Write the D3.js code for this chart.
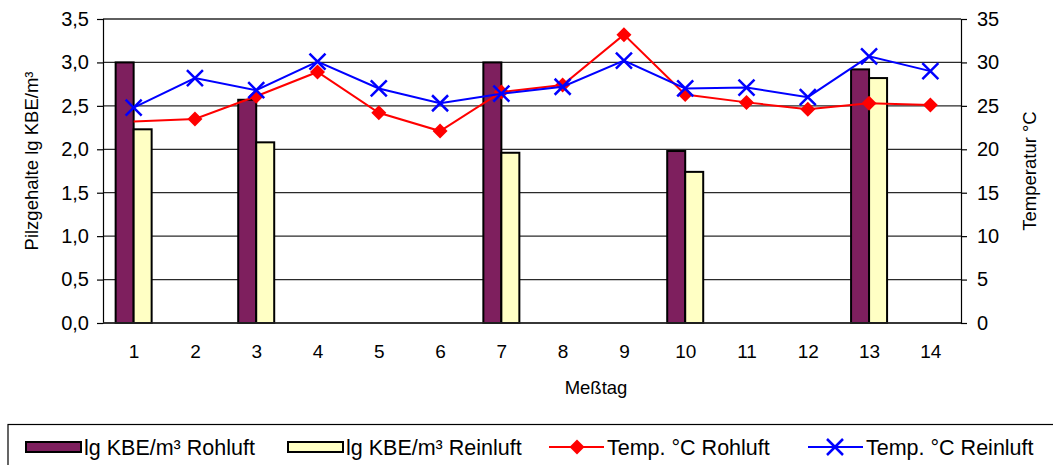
<!DOCTYPE html>
<html>
<head>
<meta charset="utf-8">
<script src="https://cdn.jsdelivr.net/npm/d3@7"></script>
<style>
  html, body { margin: 0; padding: 0; background: #fff; }
  svg { display: block; font-family: "Liberation Sans", Arial, sans-serif; }
</style>
</head>
<body>
<svg id="chart" width="1053" height="465"></svg>
<script>
// Measurement days
const days = ["1","2","3","4","5","6","7","8","9","10","11","12","13","14"];
// Fungal load (lg KBE/m³) on the days it was sampled; null = not measured
const kbeRohluft  = [3.00, null, 2.57, null, null, null, 3.00, null, null, 1.98, null, null, 2.92, null];
const kbeReinluft = [2.23, null, 2.08, null, null, null, 1.96, null, null, 1.74, null, null, 2.82, null];
// Temperatures in °C
const tempRohluft  = [23.2, 23.5, 26.1, 28.9, 24.2, 22.1, 26.6, 27.4, 33.2, 26.3, 25.4, 24.6, 25.3, 25.1];
const tempReinluft = [24.8, 28.2, 26.8, 30.1, 27.0, 25.3, 26.4, 27.2, 30.2, 27.0, 27.1, 26.0, 30.7, 29.0];
// Axis ticks
const leftTicks  = [0, 0.5, 1, 1.5, 2, 2.5, 3, 3.5];
const rightTicks = [0, 5, 10, 15, 20, 25, 30, 35];

const barSeries = ["Rohluft", "Reinluft"];
const barColor = { Rohluft: "#7E1F5E", Reinluft: "#FFFFC4" };

const svg = d3.select("#chart");
const plot = { left: 103, right: 961, top: 19, bottom: 323 };

const x = d3.scalePoint().domain(days).range([plot.left, plot.right]).padding(0.5);
const xb = d3.scaleBand().domain(barSeries).range([-18, 18]);
const yL = d3.scaleLinear().domain([0, 3.5]).range([plot.bottom, plot.top]);
const yR = d3.scaleLinear().domain([0, 35]).range([plot.bottom, plot.top]);

const fmtL = v => d3.format(".1f")(v).replace(".", ",");

// Horizontal gridlines
svg.append("g").selectAll("line").data(leftTicks).join("line")
  .attr("x1", plot.left).attr("x2", plot.right)
  .attr("y1", d => yL(d)).attr("y2", d => yL(d))
  .attr("stroke", "#2a2a2a").attr("stroke-width", 1.3);

// Bars
const barData = [];
days.forEach((d, i) => {
  if (kbeRohluft[i] != null) barData.push({ day: d, s: "Rohluft", v: kbeRohluft[i] });
  if (kbeReinluft[i] != null) barData.push({ day: d, s: "Reinluft", v: kbeReinluft[i] });
});
svg.append("g").selectAll("rect").data(barData).join("rect")
  .attr("x", d => x(d.day) + xb(d.s))
  .attr("y", d => yL(d.v))
  .attr("width", xb.bandwidth())
  .attr("height", d => yL(0) - yL(d.v))
  .attr("fill", d => barColor[d.s])
  .attr("stroke", "#000").attr("stroke-width", 2);

// Axes
const axL = svg.append("g").attr("transform", `translate(${plot.left},0)`)
  .call(d3.axisLeft(yL).tickValues(leftTicks).tickFormat(fmtL).tickSize(6).tickPadding(8));
const axR = svg.append("g").attr("transform", `translate(${plot.right},0)`)
  .call(d3.axisRight(yR).tickValues(rightTicks).tickFormat(d3.format("d")).tickSize(6).tickPadding(10));
const axB = svg.append("g").attr("transform", `translate(0,${plot.bottom})`)
  .call(d3.axisBottom(x).tickSize(0).tickPadding(22));
[axL, axR, axB].forEach(a => {
  a.select(".domain").attr("stroke", "#000").attr("stroke-width", 1.2);
  a.selectAll(".tick line").attr("stroke", "#000").attr("stroke-width", 1.2);
  a.selectAll("text").attr("font-family", "Liberation Sans, Arial, sans-serif")
    .attr("font-size", 20).attr("fill", "#000");
});
axB.selectAll("text").attr("font-size", 19);
axB.select(".domain").remove();
svg.append("line").attr("x1", plot.left).attr("x2", plot.right)
  .attr("y1", plot.bottom).attr("y2", plot.bottom)
  .attr("stroke", "#2a2a2a").attr("stroke-width", 1.3);

// Axis titles
svg.append("text").attr("transform", `translate(38,${(plot.top + plot.bottom) / 2 - 10}) rotate(-90)`)
  .attr("text-anchor", "middle").attr("font-size", 18.5).text("Pilzgehalte lg KBE/m³");
svg.append("text").attr("transform", `translate(1036,${(plot.top + plot.bottom) / 2}) rotate(-90)`)
  .attr("text-anchor", "middle").attr("font-size", 18.5).text("Temperatur °C");
svg.append("text").attr("x", 596).attr("y", 394)
  .attr("text-anchor", "middle").attr("font-size", 18.5).text("Meßtag");

// Temperature lines
const line = d3.line().x((d, i) => x(days[i])).y(d => yR(d));
svg.append("path").datum(tempRohluft).attr("d", line)
  .attr("fill", "none").attr("stroke", "#FF0000").attr("stroke-width", 2);
const diamond = (cx, cy, r) => `M${cx},${cy - r}L${cx + r},${cy}L${cx},${cy + r}L${cx - r},${cy}Z`;
svg.append("g").selectAll("path").data(tempRohluft.map((v, i) => ({ v, i })).filter(d => d.i > 0))
  .join("path")
  .attr("d", d => diamond(x(days[d.i]), yR(d.v), 7.5))
  .attr("fill", "#FF0000");

svg.append("path").datum(tempReinluft).attr("d", line)
  .attr("fill", "none").attr("stroke", "#0000FF").attr("stroke-width", 2);
const cross = (cx, cy, r) => `M${cx - r},${cy - r}L${cx + r},${cy + r}M${cx - r},${cy + r}L${cx + r},${cy - r}`;
svg.append("g").selectAll("path").data(tempReinluft).join("path")
  .attr("d", (d, i) => cross(x(days[i]), yR(d), 8))
  .attr("fill", "none").attr("stroke", "#0000FF").attr("stroke-width", 2.5);

// Legend
const lg = svg.append("g");
lg.append("rect").attr("x", 8).attr("y", 424.5).attr("width", 1060).attr("height", 60)
  .attr("fill", "#fff").attr("stroke", "#000").attr("stroke-width", 1.2);
const ly = 447;
const legendItems = [
  { type: "bar", key: "Rohluft", x: 26, label: "lg KBE/m³ Rohluft" },
  { type: "bar", key: "Reinluft", x: 288, label: "lg KBE/m³ Reinluft" },
  { type: "diamond", x: 549, label: "Temp. °C Rohluft" },
  { type: "cross", x: 808, label: "Temp. °C Reinluft" }
];
legendItems.forEach(it => {
  if (it.type === "bar") {
    lg.append("rect").attr("x", it.x).attr("y", ly - 5).attr("width", 55).attr("height", 10)
      .attr("fill", barColor[it.key]).attr("stroke", "#000").attr("stroke-width", 2);
  } else {
    const col = it.type === "diamond" ? "#FF0000" : "#0000FF";
    lg.append("line").attr("x1", it.x).attr("x2", it.x + 55).attr("y1", ly).attr("y2", ly)
      .attr("stroke", col).attr("stroke-width", 2);
    if (it.type === "diamond") {
      lg.append("path").attr("d", diamond(it.x + 28, ly, 7.5)).attr("fill", col);
    } else {
      lg.append("path").attr("d", cross(it.x + 27, ly, 8)).attr("stroke", col)
        .attr("stroke-width", 2.5).attr("fill", "none");
    }
  }
  lg.append("text").attr("x", it.x + 58).attr("y", ly + 7.5).attr("font-size", 21.5).text(it.label);
});
</script>
</body>
</html>
